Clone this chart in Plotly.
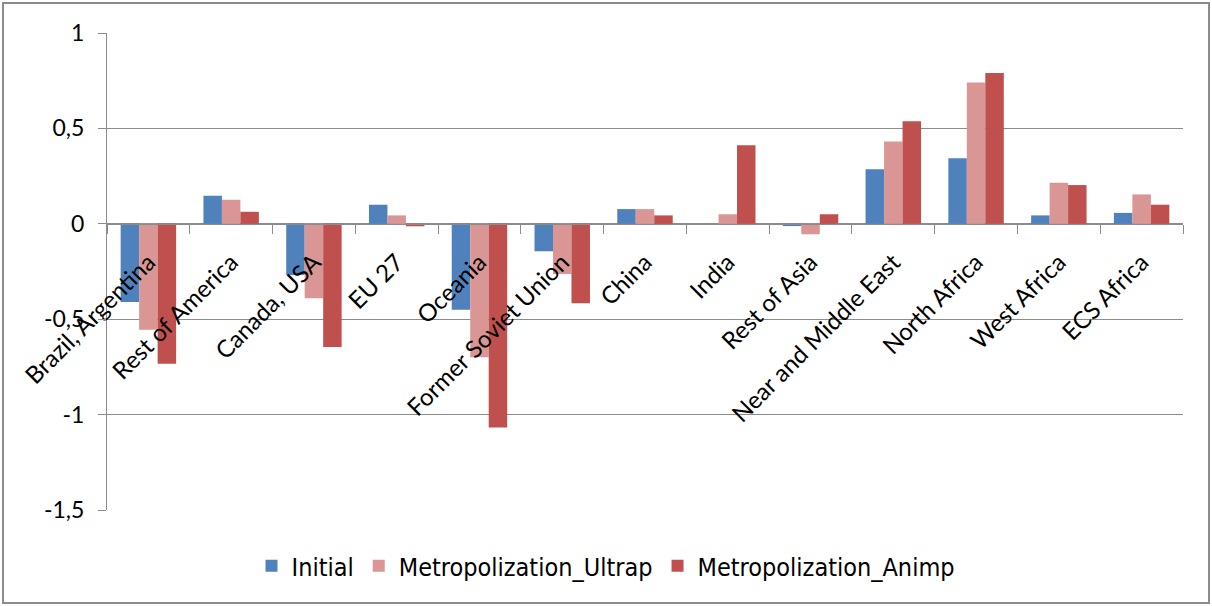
import plotly.graph_objects as go

categories = ["Brazil, Argentina", "Rest of America", "Canada, USA", "EU 27", "Oceania",
              "Former Soviet Union", "China", "India", "Rest of Asia", "Near and Middle East",
              "North Africa", "West Africa", "ECS Africa"]
initial = [-0.41, 0.147, -0.268, 0.10, -0.451, -0.144, 0.077, 0.0, -0.012, 0.286, 0.344, 0.044, 0.057]
ultrap = [-0.555, 0.126, -0.39, 0.044, -0.70, -0.263, 0.077, 0.05, -0.055, 0.431, 0.74, 0.215, 0.154]
animp = [-0.733, 0.063, -0.646, -0.013, -1.067, -0.416, 0.044, 0.412, 0.05, 0.538, 0.79, 0.203, 0.10]
series_names = ["Initial", "Metropolization_Ultrap", "Metropolization_Animp"]
colors = ["#4F81BD", "#D99694", "#C0504D"]
ytick_vals = [-1.5, -1, -0.5, 0, 0.5, 1]
ytick_text = ["-1,5", "-1", "-0,5", "0", "0,5", "1"]

FONT = "Lato, 'Open Sans', sans-serif"
LEGFONT = "'Liberation Sans Narrow', 'DejaVu Sans Condensed', Lato, sans-serif"

fig = go.Figure()
for name, vals, col in zip(series_names, [initial, ultrap, animp], colors):
    fig.add_trace(go.Bar(x=categories, y=vals, name=name, marker=dict(color=col, line=dict(width=0))))

ymin, ymax = -1.5, 1.0
fig.update_layout(
    width=1212, height=606,
    margin=dict(l=107, r=29, t=33, b=96, autoexpand=False),
    paper_bgcolor="white", plot_bgcolor="white",
    barmode="group", bargap=0.33, bargroupgap=0,
    font=dict(family=FONT, size=22, color="black"),
    showlegend=True,
    legend=dict(orientation="h", x=0.5, xanchor="center", xref="container",
                y=1 - 566 / 606, yanchor="middle", yref="container",
                font=dict(size=25, family=LEGFONT), itemsizing="constant", traceorder="normal"),
    xaxis=dict(type="category", anchor="free", position=(0 - ymin) / (ymax - ymin),
               showline=True, linecolor="#8c8c8c", linewidth=1, automargin=False,
               ticks="outside", tickson="boundaries", ticklen=9, tickcolor="#8c8c8c",
               tickangle=-45, showgrid=False, tickfont=dict(size=24), ticklabelstandoff=14),
    yaxis=dict(range=[ymin, ymax], tickvals=ytick_vals, ticktext=ytick_text,
               showline=True, linecolor="#8c8c8c", linewidth=1, automargin=False,
               ticks="outside", ticklen=8, tickcolor="#8c8c8c",
               showgrid=True, gridcolor="#8c8c8c", gridwidth=1,
               zeroline=False, tickfont=dict(size=23), ticklabelstandoff=9),
)
# outer chart border
pw, ph = 1212 - 107 - 29, 606 - 33 - 96
fig.add_shape(type="rect", xref="paper", yref="paper",
              x0=(3 - 107) / pw, x1=(1209 - 107) / pw,
              y0=(606 - 96 - 603) / ph, y1=(606 - 96 - 3) / ph,
              line=dict(color="#8c8c8c", width=2), fillcolor="rgba(0,0,0,0)", layer="below")
fig.write_html("out.html", config={"displayModeBar": False},
               post_script="document.body.style.margin='0';document.body.style.padding='0';")
